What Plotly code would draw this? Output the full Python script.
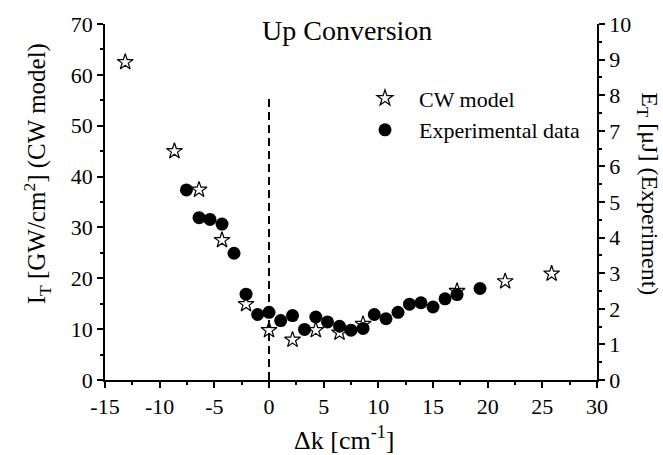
import plotly.graph_objects as go

# CW model (left axis, GW/cm^2)
cw_dk = [-13.15, -8.65, -6.4, -4.3, -2.1, 0.0, 2.15, 4.28, 6.45, 8.6, 17.2, 21.6, 25.85]
cw_it = [62.5, 45.0, 37.4, 27.5, 14.9, 9.8, 7.9, 9.8, 9.3, 11.0, 17.5, 19.4, 20.9]

# Experimental data (right axis, uJ)
exp_dk = [-7.55, -6.4, -5.4, -4.3, -3.2, -2.1, -1.04, 0.0, 1.07, 2.15, 3.25, 4.28, 5.35,
          6.45, 7.5, 8.6, 9.63, 10.7, 11.8, 12.85, 13.9, 15.0, 16.1, 17.2, 19.3]
exp_et = [5.34, 4.56, 4.51, 4.38, 3.56, 2.41, 1.84, 1.9, 1.67, 1.81, 1.42, 1.77, 1.63,
          1.51, 1.40, 1.45, 1.84, 1.72, 1.9, 2.13, 2.17, 2.05, 2.28, 2.4, 2.57]

# phase-matching reference line
ref_dk = [0, 0]
ref_it = [0, 55.5]

# tick labels
x_ticks = [-15, -10, -5, 0, 5, 10, 15, 20, 25, 30]
x_tick_labels = ["-15", "-10", "-5", "0", "5", "10", "15", "20", "25", "30"]

FONT = "Liberation Serif, Times New Roman, serif"

fig = go.Figure()
fig.add_trace(go.Scatter(x=ref_dk, y=ref_it, mode="lines", showlegend=False,
                         line=dict(color="black", width=2, dash="8px,5px"), hoverinfo="skip"))
fig.add_trace(go.Scatter(x=cw_dk, y=cw_it, mode="markers", name="CW model",
                         marker=dict(symbol="star-open", size=12, color="black",
                                     line=dict(color="black", width=1.2))))
fig.add_trace(go.Scatter(x=exp_dk, y=exp_et, mode="markers", name="Experimental data",
                         yaxis="y2",
                         marker=dict(symbol="circle", size=13, color="black")))

axis_common = dict(showline=True, linecolor="black", linewidth=1.5, ticks="outside",
                   ticklen=6, tickwidth=1.5, tickcolor="black", showgrid=False,
                   zeroline=False, tickfont=dict(family=FONT, size=22, color="black"))

fig.update_layout(
    width=663, height=455,
    margin=dict(l=105, r=66, t=17, b=75),
    plot_bgcolor="white", paper_bgcolor="white",
    font=dict(family=FONT, color="black"),
    xaxis=dict(range=[-15, 30], tickmode="array", tickvals=x_ticks, ticktext=x_tick_labels,
               minor=dict(ticks="outside", ticklen=3, tickwidth=1.5, dtick=2.5, tickcolor="black"),
               **axis_common),
    yaxis=dict(range=[0, 70], dtick=10,
               minor=dict(ticks="outside", ticklen=3, tickwidth=1.5, dtick=5, tickcolor="black"),
               **axis_common),
    yaxis2=dict(range=[0, 10], dtick=1, overlaying="y", side="right",
                minor=dict(ticks="outside", ticklen=3, tickwidth=1.5, dtick=0.5, tickcolor="black"),
                **axis_common),
    legend=dict(x=0.50, y=0.85, xanchor="left", yanchor="top", bgcolor="rgba(0,0,0,0)",
                font=dict(family=FONT, size=22, color="black"), itemwidth=58),
    annotations=[
        dict(text="Up Conversion", xref="paper", yref="paper", x=0.492, y=0.981,
             showarrow=False, font=dict(family=FONT, size=28), xanchor="center", yanchor="middle"),
        dict(text="I<sub>T</sub> [GW/cm<sup>2</sup>] (CW model)", xref="paper", yref="paper",
             x=-0.138, y=0.578, textangle=-90, showarrow=False,
             font=dict(family=FONT, size=25), xanchor="center", yanchor="middle"),
        dict(text="E<sub>T</sub> [μJ] (Experiment)", xref="paper", yref="paper",
             x=1.102, y=0.524, textangle=90, showarrow=False,
             font=dict(family=FONT, size=24), xanchor="center", yanchor="middle"),
        dict(text="Δk [cm<sup>-1</sup>]", xref="paper", yref="paper",
             x=0.486, y=-0.163, showarrow=False,
             font=dict(family=FONT, size=26), xanchor="center", yanchor="middle"),
    ],
)

fig.write_html("out.html")
